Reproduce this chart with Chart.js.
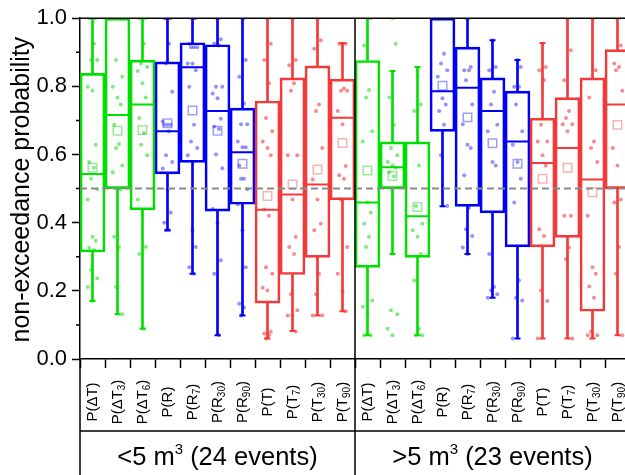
<!DOCTYPE html>
<html><head><meta charset="utf-8">
<script src="https://cdn.jsdelivr.net/npm/chart.js@4/dist/chart.umd.min.js"></script>
<style>html,body{margin:0;padding:0;overflow:hidden;background:#fff;width:625px;height:475px}canvas{display:block}</style>
</head><body>
<canvas id="c" width="640" height="475"></canvas>
<script>
// ---- data ----
const groupLabels = ['<5', '>5'];
const groupEvents = [24, 23];
const varBase = ['ΔT','ΔT','ΔT','R','R','R','R','T','T','T','T'];
const varSub  = ['','3','6','','7','30','90','','7','30','90'];
const varFamily = ['dT','dT','dT','R','R','R','R','T','T','T','T'];
const yTitle = 'non-exceedance probability';
const refLevel = 0.5;

const whiskerLow  = [0.17,0.131,0.089,0.378,0.25,0.07,0.128,0.06,0.082,0.128,0.14,
                     0.07,0.308,0.07,0.448,0.308,0.18,0.06,0.06,0.06,0.06,0.07];
const q1          = [0.314,0.5,0.438,0.543,0.577,0.434,0.454,0.164,0.248,0.298,0.467,
                     0.269,0.5,0.298,0.668,0.448,0.429,0.329,0.329,0.357,0.14,0.5];
const median      = [0.543,0.716,0.747,0.668,0.856,0.728,0.607,0.438,0.483,0.512,0.708,
                     0.459,0.563,0.419,0.786,0.796,0.728,0.638,0.575,0.619,0.527,0.747];
const q3          = [0.838,1.0,0.877,0.872,0.928,0.922,0.736,0.757,0.825,0.86,0.821,
                     0.876,0.637,0.637,1.0,0.915,0.825,0.786,0.707,0.767,0.825,0.908];
const whiskerHigh = [1.0,1.0,1.0,1.0,1.0,1.0,1.0,1.0,1.0,1.0,0.927,
                     1.0,0.845,0.857,1.0,1.0,0.935,0.877,0.927,1.0,1.0,1.0];
const meanValue   = [0.561,0.67,0.672,0.692,0.729,0.67,0.573,0.478,0.512,0.556,0.634,
                     0.553,0.537,0.446,0.802,0.709,0.633,0.573,0.529,0.561,0.489,0.687];

const pointsSmall = [
  [1.0,1.0,1.0,0.925,0.877,0.877,0.799,0.787,0.629,0.578,0.561,0.529,0.498,0.468,0.359,0.347,0.326,0.32,0.261,0.237,0.211,0.17],
  [1.0,1.0,1.0,1.0,0.877,0.828,0.799,0.767,0.747,0.687,0.631,0.619,0.568,0.548,0.498,0.498,0.359,0.329,0.211,0.131],
  [1.0,1.0,1.0,0.925,0.867,0.857,0.845,0.809,0.767,0.707,0.663,0.629,0.598,0.468,0.42,0.329,0.308,0.089],
  [1.0,1.0,1.0,0.925,0.867,0.784,0.697,0.687,0.687,0.687,0.668,0.598,0.578,0.559,0.498,0.43,0.4,0.378,0.378],
  [1.0,1.0,0.925,0.915,0.915,0.915,0.867,0.867,0.847,0.799,0.687,0.638,0.619,0.598,0.378,0.329,0.269,0.25],
  [1.0,0.938,0.925,0.92,0.799,0.799,0.779,0.765,0.705,0.682,0.675,0.6,0.56,0.44,0.4,0.29,0.25,0.07],
  [1.0,0.877,0.828,0.75,0.689,0.689,0.638,0.621,0.621,0.568,0.529,0.529,0.498,0.454,0.378,0.269,0.162,0.151,0.128],
  [1.0,0.925,0.877,0.809,0.707,0.668,0.638,0.619,0.598,0.439,0.42,0.269,0.25,0.209,0.201,0.08,0.075,0.07,0.06],
  [1.0,0.877,0.862,0.809,0.787,0.598,0.598,0.468,0.359,0.329,0.308,0.19,0.143,0.128,0.128,0.081],
  [1.0,0.935,0.91,0.747,0.728,0.619,0.527,0.468,0.397,0.378,0.25,0.19,0.128,0.128],
  [0.925,0.925,0.925,0.794,0.787,0.787,0.728,0.689,0.566,0.539,0.529,0.468,0.329,0.25,0.199,0.14]
];
const pointsLarge = [
  [1.0,1.0,0.92,0.789,0.767,0.668,0.638,0.459,0.43,0.397,0.359,0.329,0.172,0.153,0.131,0.07,0.07],
  [1.0,0.925,0.767,0.687,0.619,0.598,0.578,0.568,0.561,0.548,0.536,0.143,0.131,0.089,0.07],
  [0.828,0.747,0.728,0.568,0.449,0.397,0.378,0.359,0.308,0.23,0.089,0.07,0.07],
  [1.0,1.0,1.0,0.896,0.867,0.847,0.828,0.765,0.747,0.728,0.687,0.598,0.449],
  [1.0,0.857,0.847,0.847,0.818,0.747,0.689,0.629,0.619,0.539,0.444,0.381,0.361,0.327,0.308],
  [0.935,0.857,0.847,0.784,0.747,0.687,0.668,0.578,0.568,0.308,0.211,0.201,0.19,0.18],
  [0.877,0.857,0.799,0.799,0.747,0.668,0.629,0.578,0.529,0.459,0.23,0.18,0.172,0.06],
  [0.925,0.857,0.847,0.818,0.687,0.638,0.638,0.598,0.568,0.381,0.361,0.201,0.17,0.06],
  [1.0,0.906,0.818,0.728,0.707,0.689,0.689,0.668,0.42,0.42,0.327,0.293,0.06],
  [1.0,0.847,0.767,0.638,0.619,0.578,0.42,0.269,0.25,0.213,0.18,0.08,0.07,0.07],
  [1.0,0.92,0.867,0.857,0.847,0.787,0.619,0.568,0.468,0.459,0.329,0.25,0.07]
];

// ---- styling ----
const FONT = "'Liberation Sans', Arial, sans-serif";
const lineCol  = {dT:'#00e000', R:'#0000f5', T:'#f23a3a'};
const pointCol = {dT:'rgba(0,215,0,0.5)', R:'rgba(40,40,255,0.5)', T:'rgba(240,45,45,0.55)'};
const meanCol  = {dT:'rgba(0,200,0,0.4)', R:'rgba(40,40,235,0.45)', T:'rgba(240,60,60,0.4)'};
const BOX_W = 25;

const nVar = varBase.length;
const nCat = nVar * groupLabels.length;
const cats = Array.from({length:nCat}, (_, i) => i);
const fam = cats.map(i => varFamily[i % nVar]);
const colLine = fam.map(f => lineCol[f]);
const allPoints = pointsSmall.concat(pointsLarge);

const jitter = [0, 0.13, -0.13, 0.06, -0.06, 0.19, -0.19];
const ptData = [], ptColors = [];
allPoints.forEach((arr, i) => arr.forEach((v, k) => {
  ptData.push({x: i + jitter[k % jitter.length], y: v});
  ptColors.push(pointCol[fam[i]]);
}));

const halfCat = ctx => {
  const x = ctx.chart.scales.x;
  return Math.max(1, (x.getPixelForValue(1) - x.getPixelForValue(0)) / 2 - 1.5);
};

const decor = {
  id: 'decor',
  afterDatasetsDraw(chart) {
    const {ctx, chartArea: a, scales: {y}} = chart;
    const yr = y.getPixelForValue(refLevel);
    ctx.save();
    ctx.strokeStyle = '#8a8a8a'; ctx.lineWidth = 2; ctx.setLineDash([7, 4]);
    ctx.beginPath(); ctx.moveTo(a.left, yr); ctx.lineTo(a.right, yr); ctx.stroke();
    ctx.restore();
  },
  afterDraw(chart) {
    const {ctx, chartArea: a, scales: {x, y}} = chart;
    const H = chart.height;
    ctx.save();
    ctx.strokeStyle = '#000'; ctx.lineWidth = 1.5;
    ctx.beginPath();
    ctx.moveTo(a.left, a.top); ctx.lineTo(a.right, a.top); ctx.lineTo(a.right, H);
    ctx.stroke();
    const xd = x.getPixelForValue(nVar - 0.5);
    ctx.beginPath();
    ctx.moveTo(a.left, a.bottom); ctx.lineTo(a.left, H);
    ctx.moveTo(xd, a.top); ctx.lineTo(xd, H);
    const ySep = a.bottom + 72;
    ctx.moveTo(a.left, ySep); ctx.lineTo(a.right, ySep);
    ctx.stroke();
    ctx.beginPath();
    for (let v = 0.1; v < 1; v += 0.2) {
      const yy = y.getPixelForValue(v);
      ctx.moveTo(a.left - 4, yy); ctx.lineTo(a.left, yy);
    }
    ctx.stroke();
    ctx.fillStyle = '#000';
    ctx.save();
    ctx.translate(22, (a.top + a.bottom) / 2 + 1);
    ctx.rotate(-Math.PI / 2);
    ctx.textAlign = 'center'; ctx.textBaseline = 'middle';
    ctx.font = '25px ' + FONT;
    ctx.fillText(yTitle, 0, 0);
    ctx.restore();
    ctx.textBaseline = 'middle';
    const mainF = '15px ' + FONT, subF = '10px ' + FONT;
    const yc = a.bottom + 43;
    cats.forEach(i => {
      const base = varBase[i % nVar], sub = varSub[i % nVar];
      const cx = x.getPixelForValue(i);
      ctx.font = mainF;
      const w1 = ctx.measureText('P(' + base).width;
      const w3 = ctx.measureText(')').width;
      ctx.font = subF;
      const w2 = sub ? ctx.measureText(sub).width : 0;
      const total = w1 + w2 + w3;
      ctx.save();
      ctx.translate(cx, yc);
      ctx.rotate(-Math.PI / 2);
      ctx.textAlign = 'left';
      let p = -total / 2;
      ctx.font = mainF; ctx.fillText('P(' + base, p, 0); p += w1;
      if (sub) { ctx.font = subF; ctx.fillText(sub, p, 5); p += w2; }
      ctx.font = mainF; ctx.fillText(')', p, 0);
      ctx.restore();
    });
    const gy = a.bottom + 97;
    groupLabels.forEach((g, gi) => {
      const xl = x.getPixelForValue(gi * nVar - 0.5), xr = x.getPixelForValue((gi + 1) * nVar - 0.5);
      const cx = (xl + xr) / 2;
      const t1 = g + ' m', t2 = '3', t3 = ' (' + groupEvents[gi] + ' events)';
      ctx.font = '25.5px ' + FONT;
      const w1 = ctx.measureText(t1).width, w3 = ctx.measureText(t3).width;
      ctx.font = '15px ' + FONT;
      const w2 = ctx.measureText(t2).width;
      let p = cx - (w1 + w2 + w3) / 2;
      ctx.textAlign = 'left'; ctx.textBaseline = 'alphabetic';
      ctx.font = '25.5px ' + FONT; ctx.fillText(t1, p, gy + 9); p += w1;
      ctx.font = '15px ' + FONT; ctx.fillText(t2, p, gy - 2); p += w2;
      ctx.font = '25.5px ' + FONT; ctx.fillText(t3, p, gy + 9);
    });
    ctx.restore();
  }
};

new Chart(document.getElementById('c'), {
  type: 'bar',
  data: {
    datasets: [
      { type: 'line', label: 'median', data: cats.map(i => ({x: i, y: median[i]})),
        showLine: false, pointStyle: 'line', pointRadius: halfCat,
        pointBorderColor: colLine, pointBorderWidth: 2 },
      { type: 'line', label: 'capLow', data: cats.map(i => ({x: i, y: whiskerLow[i]})),
        showLine: false, pointStyle: 'line', pointRadius: 3,
        pointBorderColor: colLine, pointBorderWidth: 2 },
      { type: 'line', label: 'capHigh', data: cats.map(i => ({x: i, y: whiskerHigh[i]})),
        showLine: false, pointStyle: 'line', pointRadius: 3,
        pointBorderColor: colLine, pointBorderWidth: 2 },
      { type: 'bar', label: 'box', data: cats.map(i => ({x: i, y: [q1[i], q3[i]]})),
        backgroundColor: 'rgba(0,0,0,0)', borderColor: colLine, borderWidth: 2,
        borderSkipped: false, barThickness: BOX_W, grouped: false },
      { type: 'bar', label: 'whiskerLow', data: cats.map(i => ({x: i, y: [whiskerLow[i], q1[i]]})),
        backgroundColor: colLine, borderWidth: 0, barThickness: 2, grouped: false },
      { type: 'bar', label: 'whiskerHigh', data: cats.map(i => ({x: i, y: [q3[i], whiskerHigh[i]]})),
        backgroundColor: colLine, borderWidth: 0, barThickness: 2, grouped: false },
      { type: 'line', label: 'mean', data: cats.map(i => ({x: i, y: meanValue[i]})),
        showLine: false, pointStyle: 'rect', pointRadius: 6,
        pointBorderColor: fam.map(f => meanCol[f]), pointBackgroundColor: 'rgba(0,0,0,0)', pointBorderWidth: 1.5 },
      { type: 'line', label: 'points', data: ptData,
        showLine: false, pointStyle: 'circle', pointRadius: 2,
        pointBackgroundColor: ptColors, pointBorderWidth: 0 }
    ]
  },
  options: {
    responsive: false,
    animation: false,
    events: [],
    layout: { padding: { top: 16, right: 10, left: 0, bottom: 0 } },
    plugins: { legend: { display: false }, tooltip: { enabled: false } },
    scales: {
      x: {
        type: 'linear', min: -0.5, max: 21.5, offset: false,
        ticks: { display: false, stepSize: 1 },
        grid: { offset: false, drawOnChartArea: false, tickLength: 9, color: '#000', tickWidth: 1.5 },
        border: { display: true, color: '#000', width: 1.5 },
        afterFit: s => { s.height = 116; }
      },
      y: {
        min: 0, max: 1,
        ticks: { stepSize: 0.2, color: '#000', padding: 5,
                 font: { family: FONT, size: 22 }, callback: v => v.toFixed(1) },
        grid: { drawOnChartArea: false, tickLength: 8, color: '#000', tickWidth: 1.5 },
        border: { display: true, color: '#000', width: 1.5 },
        afterFit: s => { s.width = 80; }
      }
    }
  },
  plugins: [decor]
});
</script>
</body></html>
